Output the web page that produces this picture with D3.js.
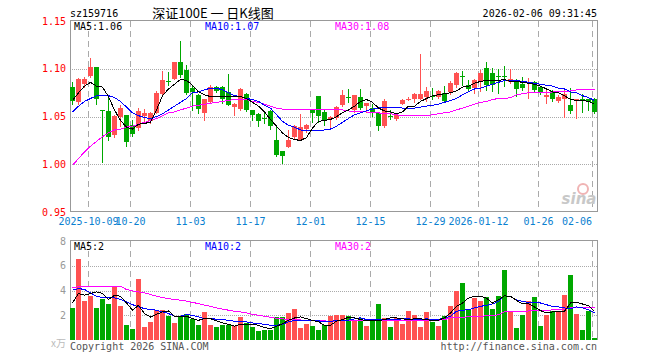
<!DOCTYPE html>
<html>
<head>
<meta charset="utf-8">
<script src="https://cdn.jsdelivr.net/npm/d3@7"></script>
<style>
body { margin: 0; background: #fff; }
svg text { font-family: "DejaVu Sans Mono", monospace; font-size: 10px; }
</style>
</head>
<body>
<div id="chart"></div>
<script>
// vim: set expandtab shiftwidth=4 softtabstop=4:

var symbol = "sz159716";
var title = "深证100E 一 日K线图";
var stamp = "2026-02-06 09:31:45";

// date ticks: index of the candle and its label
var tickIdx = [3, 10, 20, 30, 40, 50, 60, 68, 78, 87];
var tickLabels = ["2025-10-09", "10-20", "11-03", "11-17", "12-01",
                  "12-15", "12-29", "2026-01-12", "01-26", "02-06"];
var priceTicks = [1.15, 1.10, 1.05, 1.00, 0.95];
var volTicks = [8, 6, 4, 2];

var open = [
    1.081, 1.065, 1.084, 1.093, 1.102, 1.057, 1.056, 1.031, 1.050, 1.052,
    1.041, 1.038, 1.051, 1.045, 1.054, 1.074, 1.087, 1.090, 1.107, 1.099,
    1.080, 1.073, 1.054, 1.065, 1.081, 1.081, 1.076, 1.060, 1.058, 1.074,
    1.057, 1.053, 1.049, 1.056, 1.026, 1.014, 1.018, 1.029, 1.026, 1.037,
    1.058, 1.072, 1.055, 1.048, 1.049, 1.062, 1.071, 1.057, 1.071, 1.061,
    1.059, 1.054, 1.040, 1.051, 1.048, 1.063, 1.067, 1.069, 1.069, 1.071,
    1.072, 1.071, 1.075, 1.076, 1.083, 1.093, 1.083, 1.080, 1.086, 1.101,
    1.096, 1.093, 1.093, 1.086, 1.088, 1.084, 1.085, 1.086, 1.081, 1.071,
    1.077, 1.066, 1.069, 1.062, 1.068, 1.069, 1.068, 1.069];
var high = [
    1.086, 1.091, 1.092, 1.112, 1.102, 1.057, 1.073, 1.052, 1.062, 1.052,
    1.046, 1.059, 1.058, 1.055, 1.077, 1.098, 1.097, 1.107, 1.129, 1.104,
    1.082, 1.074, 1.069, 1.083, 1.082, 1.082, 1.095, 1.064, 1.080, 1.075,
    1.057, 1.054, 1.054, 1.057, 1.040, 1.014, 1.036, 1.041, 1.053, 1.042,
    1.058, 1.072, 1.057, 1.051, 1.061, 1.078, 1.079, 1.073, 1.079, 1.064,
    1.063, 1.054, 1.068, 1.057, 1.053, 1.069, 1.071, 1.075, 1.116, 1.081,
    1.080, 1.078, 1.082, 1.087, 1.097, 1.098, 1.088, 1.089, 1.099, 1.107,
    1.101, 1.100, 1.103, 1.100, 1.089, 1.092, 1.091, 1.087, 1.082, 1.080,
    1.078, 1.073, 1.078, 1.080, 1.069, 1.074, 1.069, 1.070];
var low = [
    1.063, 1.063, 1.081, 1.092, 1.063, 1.002, 1.026, 1.029, 1.040, 1.019,
    1.030, 1.036, 1.045, 1.043, 1.054, 1.073, 1.083, 1.089, 1.092, 1.074,
    1.057, 1.054, 1.046, 1.064, 1.076, 1.064, 1.062, 1.052, 1.057, 1.056,
    1.047, 1.040, 1.043, 1.037, 1.009, 1.001, 1.018, 1.028, 1.026, 1.034,
    1.044, 1.044, 1.041, 1.038, 1.048, 1.061, 1.065, 1.055, 1.058, 1.055,
    1.051, 1.036, 1.039, 1.048, 1.047, 1.063, 1.067, 1.065, 1.068, 1.066,
    1.069, 1.070, 1.065, 1.074, 1.081, 1.083, 1.078, 1.075, 1.077, 1.078,
    1.077, 1.075, 1.082, 1.085, 1.072, 1.078, 1.070, 1.076, 1.074, 1.064,
    1.066, 1.065, 1.050, 1.054, 1.049, 1.055, 1.057, 1.054];
var close = [
    1.066, 1.090, 1.089, 1.102, 1.068, 1.056, 1.029, 1.051, 1.059, 1.023,
    1.032, 1.056, 1.054, 1.054, 1.075, 1.088, 1.086, 1.107, 1.094, 1.075,
    1.076, 1.058, 1.069, 1.081, 1.077, 1.069, 1.062, 1.063, 1.079, 1.057,
    1.052, 1.045, 1.048, 1.040, 1.010, 1.009, 1.026, 1.040, 1.039, 1.041,
    1.054, 1.051, 1.045, 1.050, 1.060, 1.073, 1.070, 1.073, 1.059, 1.064,
    1.054, 1.040, 1.066, 1.050, 1.052, 1.067, 1.069, 1.074, 1.074, 1.077,
    1.072, 1.077, 1.066, 1.085, 1.096, 1.092, 1.079, 1.088, 1.096, 1.083,
    1.083, 1.092, 1.092, 1.089, 1.079, 1.080, 1.086, 1.078, 1.076, 1.073,
    1.069, 1.071, 1.074, 1.056, 1.069, 1.067, 1.065, 1.055];

// volume, in units of 10 000 (x万)
var volume = [
    2.62, 6.54, 3.14, 3.54, 2.62, 3.30, 2.89, 4.30, 2.73, 1.19,
    0.86, 4.92, 1.03, 1.46, 2.41, 2.41, 1.92, 1.38, 1.86, 2.08,
    1.73, 1.19, 2.27, 1.19, 1.05, 1.19, 1.19, 1.11, 1.86, 1.38,
    1.05, 0.73, 0.84, 0.84, 1.86, 1.86, 2.19, 2.51, 0.97, 1.32,
    1.11, 0.78, 1.19, 1.95, 2.00, 2.00, 1.92, 1.65, 1.79, 1.12,
    1.52, 2.93, 1.79, 1.04, 1.79, 1.33, 2.37, 2.05, 1.04, 2.29,
    1.44, 1.12, 1.92, 2.77, 3.97, 4.64, 2.53, 3.39, 3.17, 3.44,
    2.53, 3.57, 5.65, 2.37, 0.93, 2.05, 3.12, 3.49, 1.17, 2.00,
    2.37, 2.24, 3.65, 5.25, 2.13, 0.77, 2.37, 0.13];

// moving averages as they appear on the chart
var ma5 = [
    1.067, 1.075, 1.082, 1.086, 1.082, 1.081, 1.071, 1.057, 1.046, 1.039,
    1.037, 1.042, 1.043, 1.044, 1.057, 1.072, 1.079, 1.084, 1.089, 1.088,
    1.083, 1.076, 1.073, 1.071, 1.071, 1.071, 1.071, 1.071, 1.071, 1.069,
    1.065, 1.061, 1.055, 1.047, 1.040, 1.033, 1.028, 1.026, 1.025, 1.028,
    1.038, 1.045, 1.046, 1.047, 1.050, 1.054, 1.057, 1.061, 1.066, 1.068,
    1.065, 1.059, 1.056, 1.055, 1.053, 1.055, 1.061, 1.061, 1.066, 1.069,
    1.072, 1.073, 1.074, 1.075, 1.077, 1.081, 1.082, 1.085, 1.087, 1.088,
    1.088, 1.088, 1.089, 1.087, 1.087, 1.086, 1.085, 1.084, 1.082, 1.079,
    1.076, 1.075, 1.072, 1.068, 1.067, 1.067, 1.066, 1.063];
var ma10 = [
    1.055, 1.061, 1.066, 1.069, 1.072, 1.072, 1.072, 1.070, 1.066, 1.060,
    1.054, 1.051, 1.049, 1.048, 1.050, 1.053, 1.057, 1.061, 1.065, 1.069,
    1.075, 1.076, 1.078, 1.080, 1.080, 1.078, 1.075, 1.072, 1.071, 1.069,
    1.068, 1.066, 1.062, 1.059, 1.052, 1.045, 1.041, 1.039, 1.036, 1.035,
    1.035, 1.035, 1.036, 1.037, 1.040, 1.044, 1.048, 1.052, 1.054, 1.056,
    1.058, 1.059, 1.060, 1.060, 1.060, 1.059, 1.059, 1.059, 1.060, 1.061,
    1.062, 1.063, 1.065, 1.067, 1.069, 1.073, 1.076, 1.079, 1.080, 1.082,
    1.084, 1.086, 1.088, 1.088, 1.088, 1.087, 1.086, 1.085, 1.084, 1.083,
    1.082, 1.080, 1.079, 1.076, 1.075, 1.072, 1.070, 1.067];
var ma30 = [
    0.999, 1.006, 1.013, 1.019, 1.024, 1.029, 1.033, 1.036, 1.037, 1.039,
    1.040, 1.042, 1.044, 1.046, 1.048, 1.051, 1.054, 1.055, 1.057, 1.059,
    1.061, 1.062, 1.063, 1.064, 1.065, 1.066, 1.067, 1.068, 1.068, 1.068,
    1.066, 1.065, 1.063, 1.061, 1.059, 1.058, 1.058, 1.058, 1.058, 1.058,
    1.058, 1.058, 1.058, 1.058, 1.058, 1.057, 1.056, 1.055, 1.055, 1.055,
    1.054, 1.054, 1.053, 1.053, 1.052, 1.051, 1.051, 1.051, 1.051, 1.051,
    1.052, 1.053, 1.054, 1.055, 1.057, 1.059, 1.061, 1.063, 1.065, 1.066,
    1.068, 1.069, 1.069, 1.070, 1.073, 1.074, 1.075, 1.075, 1.075, 1.075,
    1.076, 1.076, 1.076, 1.077, 1.078, 1.078, 1.078, 1.078];
var volMa5 = [
    3.00, 3.76, 3.62, 3.76, 3.89, 3.76, 3.27, 3.62, 3.54, 3.00,
    2.41, 2.81, 2.14, 1.86, 2.08, 2.27, 2.35, 1.92, 1.92, 1.92,
    1.73, 1.59, 1.73, 1.73, 1.54, 1.38, 1.27, 1.11, 1.27, 1.27,
    1.27, 1.19, 1.00, 0.92, 1.11, 1.32, 1.59, 1.78, 1.86, 1.73,
    1.59, 1.46, 1.19, 1.19, 1.52, 1.65, 1.84, 1.79, 1.65, 1.57,
    1.57, 1.57, 1.65, 1.79, 1.79, 1.71, 1.65, 1.71, 1.71, 1.65,
    1.57, 1.60, 1.79, 2.19, 2.72, 2.99, 3.39, 3.52, 3.52, 3.39,
    2.99, 3.25, 3.57, 3.52, 3.20, 2.93, 2.93, 2.67, 2.37, 2.19,
    2.27, 2.32, 2.32, 2.99, 3.04, 2.91, 2.77, 2.32];
var volMa10 = [
    4.03, 4.16, 4.08, 3.81, 3.54, 3.43, 3.41, 3.41, 3.27, 3.08,
    2.86, 2.68, 2.54, 2.46, 2.41, 2.27, 2.14, 1.92, 1.92, 2.05,
    2.00, 1.86, 1.73, 1.73, 1.68, 1.65, 1.59, 1.51, 1.46, 1.46,
    1.38, 1.32, 1.27, 1.19, 1.19, 1.27, 1.46, 1.59, 1.59, 1.59,
    1.59, 1.54, 1.51, 1.51, 1.57, 1.60, 1.60, 1.71, 1.79, 1.65,
    1.65, 1.65, 1.65, 1.65, 1.65, 1.71, 1.71, 1.65, 1.65, 1.71,
    1.65, 1.65, 1.79, 1.92, 2.32, 2.40, 2.45, 2.59, 2.72, 2.80,
    2.91, 3.12, 3.57, 3.52, 3.25, 3.12, 3.04, 2.99, 2.99, 2.85,
    2.72, 2.67, 2.59, 2.51, 2.67, 2.59, 2.45, 2.19];
var volMa30 = [
    4.22, 4.30, 4.35, 4.35, 4.35, 4.30, 4.30, 4.35, 4.35, 4.08,
    3.97, 3.89, 3.81, 3.68, 3.54, 3.43, 3.35, 3.27, 3.22, 3.14,
    3.03, 2.95, 2.81, 2.73, 2.59, 2.49, 2.41, 2.32, 2.27, 2.19,
    2.08, 2.00, 1.92, 1.84, 1.76, 1.70, 1.68, 1.65, 1.62, 1.59,
    1.59, 1.57, 1.54, 1.51, 1.55, 1.55, 1.55, 1.55, 1.55, 1.55,
    1.55, 1.55, 1.55, 1.55, 1.55, 1.55, 1.55, 1.55, 1.55, 1.55,
    1.55, 1.60, 1.65, 1.79, 1.81, 1.84, 1.87, 1.89, 1.92, 1.95,
    1.97, 2.03, 2.29, 2.32, 2.27, 2.29, 2.35, 2.37, 2.40, 2.40,
    2.43, 2.45, 2.51, 2.59, 2.59, 2.59, 2.59, 2.59];

kline = (function(){

    var W = 660, H = 360;
    var left = 70, right = 597;
    var pTop = 21, pBot = 211;
    var vTop = 241, vBot = 340;
    var UP = "#ff5252", DOWN = "#00a800";
    var GRID = "#aaa", FRAME = "#999";
    var maColors = ["#000", "#0000ff", "#ff00ff"];

    var n = close.length;
    var svg = d3.select("#chart").append("svg")
                .attr("width", W).attr("height", H);

    // candle i occupies [x(i), x(i) + 5], 6px step
    var x = d3.scaleLinear().domain([0, n]).range([left, left + 6 * n]);
    var y = d3.scaleLinear().domain([0.95, 1.15]).range([212, 21.3]);
    var yv = d3.scaleLinear().domain([0, 8]).range([vBot, vTop]);
    var cx = function(i) { return x(i) + 2.5; };
    var px = function(v) { return Math.round(v) + 0.5; };
    var isUp = function(i) { return close[i] > open[i]; };

    //
    // header
    //
    svg.append("text").attr("x", left).attr("y", 17).text(symbol);
    svg.append("text").attr("x", 213).attr("y", 18)
        .attr("text-anchor", "middle")
        .style("font-family", "'Noto Sans CJK SC', sans-serif")
        .style("font-size", "13px")
        .style("white-space", "pre")
        .text(title);
    svg.append("text").attr("x", right).attr("y", 17)
        .attr("text-anchor", "end").text(stamp);

    //
    // grids: dotted horizontals, dashed verticals
    //
    function grid(g, top, bot, yscale, values) {
        g.selectAll("line.h").data(values).enter().append("line")
            .attr("x1", left).attr("x2", right)
            .attr("y1", function(d) { return px(yscale(d)); })
            .attr("y2", function(d) { return px(yscale(d)); })
            .attr("stroke", GRID).attr("stroke-dasharray", "1,1");
        g.selectAll("line.v").data(tickIdx).enter().append("line")
            .attr("x1", function(d) { return px(x(d)); })
            .attr("x2", function(d) { return px(x(d)); })
            .attr("y1", top).attr("y2", bot)
            .attr("stroke", GRID).attr("stroke-dasharray", "6,4");
    }
    var gp = svg.append("g").attr("shape-rendering", "crispEdges");
    grid(gp, pTop, pBot, y, [1.10, 1.05, 1.00]);
    var gv = svg.append("g").attr("shape-rendering", "crispEdges");
    grid(gv, vTop, vBot, yv, [6, 4, 2]);

    //
    // frames
    //
    svg.append("rect").attr("x", left + 0.5).attr("y", 20.5)
        .attr("width", right - left).attr("height", 191)
        .attr("fill", "none").attr("stroke", FRAME)
        .attr("shape-rendering", "crispEdges");
    svg.append("path")
        .attr("d", "M" + (left + 0.5) + "," + vBot + "V" + (vTop - 0.5) +
                   "H" + (right + 0.5) + "V" + vBot)
        .attr("fill", "none").attr("stroke", FRAME)
        .attr("shape-rendering", "crispEdges");

    //
    // axis labels
    //
    svg.selectAll("text.price").data(priceTicks).enter().append("text")
        .attr("x", 66).attr("y", function(d) { return y(d) + 3.5; })
        .attr("text-anchor", "end").attr("fill", "#f00")
        .text(function(d) { return d.toFixed(2); });
    svg.selectAll("text.vol").data(volTicks).enter().append("text")
        .attr("x", 66).attr("y", function(d) { return yv(d) + 3.5; })
        .attr("text-anchor", "end").attr("fill", "#999")
        .text(function(d) { return d; });
    svg.append("text").attr("x", 66).attr("y", 347)
        .attr("text-anchor", "end").attr("fill", "#bbb")
        .style("font-family", "'Noto Sans CJK SC', sans-serif")
        .text("x万");
    svg.selectAll("text.date").data(tickIdx).enter().append("text")
        .attr("x", function(d, k) {
            return k == tickIdx.length - 1 ? x(d) : x(d) + 0.5; })
        .attr("y", 225)
        .attr("text-anchor", function(d, k) {
            return k == tickIdx.length - 1 ? "end" : "middle"; })
        .attr("fill", "#0a80d0")
        .text(function(d, k) { return tickLabels[k]; });

    //
    // watermark
    //
    svg.append("circle").attr("cx", 583).attr("cy", 189).attr("r", 5)
        .attr("fill", "none").attr("stroke", "#f0b4b4").attr("stroke-width", 2);
    svg.append("text").attr("x", 579).attr("y", 204)
        .attr("text-anchor", "middle").attr("fill", "#c8c8c8")
        .style("font-family", "'DejaVu Sans', sans-serif")
        .style("font-size", "15px").style("font-weight", "bold")
        .style("font-style", "italic")
        .text("sina");

    //
    // candles
    //
    var idx = d3.range(n);
    var gc = svg.append("g").attr("shape-rendering", "crispEdges");
    gc.selectAll("line").data(idx).enter().append("line")
        .attr("x1", cx).attr("x2", cx)
        .attr("y1", function(i) { return Math.round(y(high[i])); })
        .attr("y2", function(i) { return Math.round(y(low[i])) + 1; })
        .attr("stroke", function(i) { return isUp(i) ? UP : DOWN; });
    gc.selectAll("rect").data(idx).enter().append("rect")
        .attr("x", function(i) { return x(i); })
        .attr("width", 5)
        .attr("y", function(i) {
            return Math.round(y(Math.max(open[i], close[i]))); })
        .attr("height", function(i) {
            return Math.max(1, Math.round(y(Math.min(open[i], close[i]))) -
                               Math.round(y(Math.max(open[i], close[i])))); })
        .attr("fill", function(i) { return isUp(i) ? UP : DOWN; });

    //
    // volume bars
    //
    svg.append("g").attr("shape-rendering", "crispEdges")
        .selectAll("rect").data(idx).enter().append("rect")
        .attr("x", function(i) { return x(i); })
        .attr("width", 5)
        .attr("y", function(i) { return Math.round(yv(volume[i])); })
        .attr("height", function(i) {
            return vBot - Math.round(yv(volume[i])); })
        .attr("fill", function(i) { return isUp(i) ? UP : DOWN; });

    //
    // moving average lines (aliased, like the original bitmap)
    //
    function maLine(series, yscale, color) {
        var line = d3.line()
            .x(function(d, i) { return cx(i); })
            .y(function(d) { return yscale(d); });
        svg.append("path").datum(series)
            .attr("d", line)
            .attr("fill", "none").attr("stroke", color)
            .attr("stroke-width", 1)
            .attr("shape-rendering", "crispEdges");
    }
    [ma30, ma10, ma5].forEach(function(s, k) {
        maLine(s, y, maColors[2 - k]);
    });
    [volMa30, volMa10, volMa5].forEach(function(s, k) {
        maLine(s, yv, maColors[2 - k]);
    });

    //
    // legends
    //
    var legendX = [74, 205, 335];
    var priceMa = [ma5, ma10, ma30];
    var volMa = [volMa5, volMa10, volMa30];
    ["MA5:", "MA10:", "MA30:"].forEach(function(name, k) {
        var p = priceMa[k][n - 1];
        var v = volMa[k][n - 1];
        svg.append("text").attr("x", legendX[k]).attr("y", 29.5)
            .attr("fill", maColors[k]).text(name + p.toFixed(2));
        svg.append("text").attr("x", legendX[k]).attr("y", 249.5)
            .attr("fill", maColors[k]).text(name + Math.floor(v));
    });

    //
    // footer
    //
    svg.append("text").attr("x", left).attr("y", 350)
        .attr("fill", "#555").text("Copyright 2026 SINA.COM");
    svg.append("text").attr("x", right).attr("y", 350)
        .attr("text-anchor", "end").attr("fill", "#555")
        .text("http://finance.sina.com.cn");

    return { svg: svg };
})();
</script>
</body>
</html>
